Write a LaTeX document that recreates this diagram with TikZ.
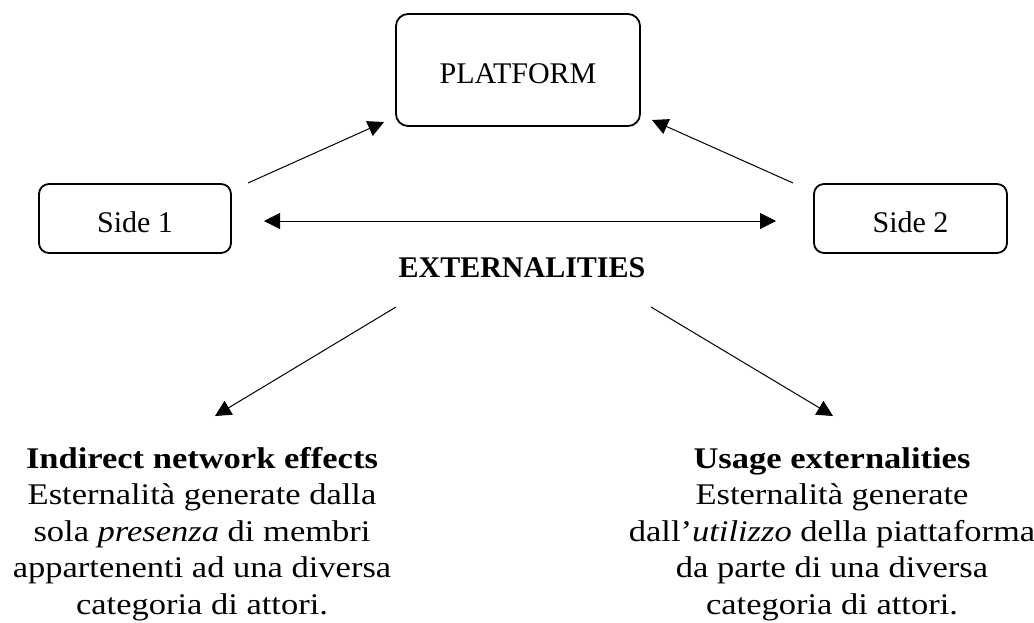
\documentclass[tikz,border=0pt]{standalone}
\usepackage{fontspec}
\setmainfont{Liberation Serif}
\newfontfamily\widefont[FakeStretch=1.15]{Liberation Serif}
\usetikzlibrary{arrows.meta}
\begin{document}
\begin{tikzpicture}[x=1pt,y=-1pt,
  box/.style={draw, line width=1.8pt, rounded corners=12pt, inner sep=0pt,
    font=\fontsize{30}{36}\selectfont, text depth=0pt, text height=27pt},
  link/.style={line width=1pt, -{Triangle[length=16pt,width=16pt]}},
  twoway/.style={line width=1pt, {Triangle[length=16pt,width=16pt]}-{Triangle[length=16pt,width=16pt]}},
  caption/.style={align=center, inner sep=0pt, anchor=north,
    font=\widefont\fontsize{30}{36.5}\selectfont}]
\useasboundingbox (0,0) rectangle (1034,622);

% three parties
\node[box, minimum width=244pt, minimum height=112pt, text height=26pt] (platform) at (518,70) {PLATFORM};
\node[box, minimum width=192pt, minimum height=69pt, rounded corners=10pt] (side1) at (135,218.5) {Side 1};
\node[box, minimum width=193pt, minimum height=69pt, rounded corners=10pt] (side2) at (910.5,218.5) {Side 2};

\node[font=\bfseries\fontsize{30}{36}\selectfont, inner sep=0pt, anchor=base] (ext) at (522,277) {EXTERNALITIES};

% arrow end points
\coordinate (s1out) at (248,183);
\coordinate (s1in)  at (384,122);
\coordinate (s2out) at (793,183);
\coordinate (s2in)  at (652,120);
\coordinate (hl)    at (264,221);
\coordinate (hr)    at (776,221);
\coordinate (dlout) at (396,307);
\coordinate (dlin)  at (215,416);
\coordinate (drout) at (651,307);
\coordinate (drin)  at (833,416);

\draw[link] (s1out) -- (s1in);
\draw[link] (s2out) -- (s2in);
\draw[twoway] (hl) -- (hr);
\draw[link] (dlout) -- (dlin);
\draw[link] (drout) -- (drin);

% the two kinds of externality
\node[caption] (indirect) at (202,447) {\textbf{Indirect network effects}\\
  Esternalità generate dalla\\
  sola \textit{presenza} di membri\\
  appartenenti ad una diversa\\
  categoria di attori.};
\node[caption] (usage) at (832,447) {\textbf{Usage externalities}\\
  Esternalità generate\\
  dall’\textit{utilizzo} della piattaforma\\
  da parte di una diversa\\
  categoria di attori.};
\end{tikzpicture}
\end{document}
